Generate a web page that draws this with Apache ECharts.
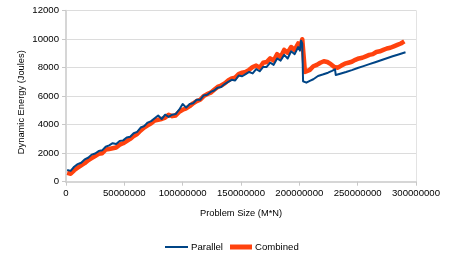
<!DOCTYPE html>
<html>
<head>
<meta charset="utf-8">
<script src="https://cdn.jsdelivr.net/npm/echarts@6/dist/echarts.min.js"></script>
<style>html,body{margin:0;padding:0;background:#fff}#c{width:454px;height:255px}</style>
</head>
<body>
<div id="c"></div>
<script>
// Problem size in millions (M*N / 1e6)
const parallelSizeM = [1,4,7,10,13,16,19,22,25,28,31,34,37,40,43,46,49,52,55,58,61,64,67,70,73,76,79,82,85,88,91,94,97,100,103,106,109,112,115,118,121,124,127,130,133,136,139,142,145,148,151,154,157,160,163,166,169,172,175,178,181,184,187,190,193,196,199,200.5,201.5,202.5,203.2,204,206,209,212,216,220,224.6,228,230.6,231.2,235,240,245,250,255,260,265,270,275,280,285,291];
const parallelEnergy = [820,760,1050,1230,1330,1560,1680,1900,1980,2150,2200,2450,2550,2700,2650,2850,2900,3100,3150,3400,3500,3800,3900,4150,4250,4450,4650,4400,4700,4550,4700,4750,5050,5450,5200,5450,5500,5750,5750,6050,6100,6300,6400,6600,6650,6850,7000,7150,7100,7450,7400,7550,7700,7600,7900,7750,8050,8050,8350,8200,8650,8500,8900,8650,9150,8950,9450,9200,9900,9700,7050,7050,6950,7080,7190,7420,7520,7650,7780,7890,7490,7580,7700,7830,7980,8110,8250,8380,8520,8660,8800,8930,9080];
const combinedSizeM = [1,4,7,10,13,16,19,22,25,28,31,34,37,40,43,46,49,52,55,58,61,64,67,70,73,76,79,82,85,88,91,94,97,100,103,106,109,112,115,118,121,124,127,130,133,136,139,142,145,148,151,154,157,160,163,166,169,172,175,178,181,184,187,190,193,196,199,201,202.5,204,204.8,206,209,212,215,218,221,224,227,230,233,236,239,242,245,248,251,254,257,260,263,266,269,272,275,278,281,284,287,290];
const combinedEnergy = [620,560,800,980,1150,1300,1500,1650,1800,1950,2000,2250,2300,2350,2400,2600,2700,2850,3000,3200,3350,3600,3800,3950,4100,4300,4350,4400,4500,4700,4600,4650,4900,5050,5150,5300,5500,5650,5750,6000,6150,6250,6450,6650,6750,6900,7100,7250,7300,7550,7650,7700,7850,8050,8150,8000,8350,8400,8650,8500,8950,8750,9250,9050,9450,9250,9700,9500,10000,9950,7700,7650,7850,8100,8200,8350,8450,8400,8250,8050,8000,8150,8280,8350,8420,8550,8650,8700,8800,8900,8950,9100,9150,9250,9350,9400,9500,9600,9700,9850];
const yTicks = [0,2000,4000,6000,8000,10000,12000];
const xTicks = [0,50000000,100000000,150000000,200000000,250000000,300000000];

const MILLION = 1e6;
const pData = parallelSizeM.map((x,i)=>[x*MILLION, parallelEnergy[i]]);
const cData = combinedSizeM.map((x,i)=>[x*MILLION, combinedEnergy[i]]);

const font = 'Liberation Sans, Arial, sans-serif';
const fs = 9.6, nfs = 9.3;
const chart = echarts.init(document.getElementById('c'), null, {renderer:'canvas'});
chart.setOption({
  animation:false,
  backgroundColor:'#fff',
  textStyle:{fontFamily:font},
  grid:{left:66,right:38,top:10.7,bottom:73.3,containLabel:false},
  legend:[
    {data:['Parallel'],left:160,top:237,itemWidth:23,itemHeight:2,icon:'rect',itemGap:0,
     textStyle:{fontSize:fs,color:'#000',fontFamily:font,padding:[0,0,0,-2]}},
    {data:['Combined'],left:225,top:237,itemWidth:22,itemHeight:5,icon:'rect',itemGap:0,
     textStyle:{fontSize:fs,color:'#000',fontFamily:font,padding:[0,0,0,-2]}}
  ],
  xAxis:{type:'value',min:xTicks[0],max:xTicks[xTicks.length-1],interval:xTicks[1]-xTicks[0],
    name:'Problem Size (M*N)',nameLocation:'middle',nameGap:27,nameMoveOverlap:false,
    nameTextStyle:{fontSize:nfs,color:'#000',fontFamily:font},
    axisLine:{show:true,onZero:false,lineStyle:{color:'#d6d6d6',width:2}},
    axisTick:{show:true,length:4,lineStyle:{color:'#c8c8c8'}},
    axisLabel:{fontSize:fs,color:'#000',margin:7,fontFamily:font,formatter:v=>String(v)},
    splitLine:{show:false}},
  yAxis:[{type:'value',min:yTicks[0],max:yTicks[yTicks.length-1],interval:yTicks[1]-yTicks[0],
    name:'Dynamic Energy (Joules)',nameLocation:'middle',nameGap:40,nameMoveOverlap:false,
    nameTextStyle:{fontSize:nfs,color:'#000',fontFamily:font,padding:[0,12,0,0]},
    axisLine:{show:true,lineStyle:{color:'#d6d6d6',width:2}},
    axisTick:{show:true,length:4,lineStyle:{color:'#c8c8c8'}},
    axisLabel:{fontSize:fs,color:'#000',margin:7,fontFamily:font,formatter:v=>String(v)},
    splitLine:{show:true,lineStyle:{color:'#dcdcdc',width:1}}},
   {type:'value',position:'right',min:yTicks[0],max:yTicks[yTicks.length-1],
    axisLine:{show:true,lineStyle:{color:'#e3e3e3',width:1}},
    axisTick:{show:false},axisLabel:{show:false},splitLine:{show:false}}],
  series:[
    {name:'Combined',type:'line',data:cData,showSymbol:false,symbol:'none',
     itemStyle:{color:'#ff420e'},lineStyle:{color:'#ff420e',width:4.5,join:'round'}},
    {name:'Parallel',type:'line',data:pData,showSymbol:false,symbol:'none',
     itemStyle:{color:'#004586'},lineStyle:{color:'#004586',width:2,join:'round'}}
  ]
});
</script>
</body>
</html>
